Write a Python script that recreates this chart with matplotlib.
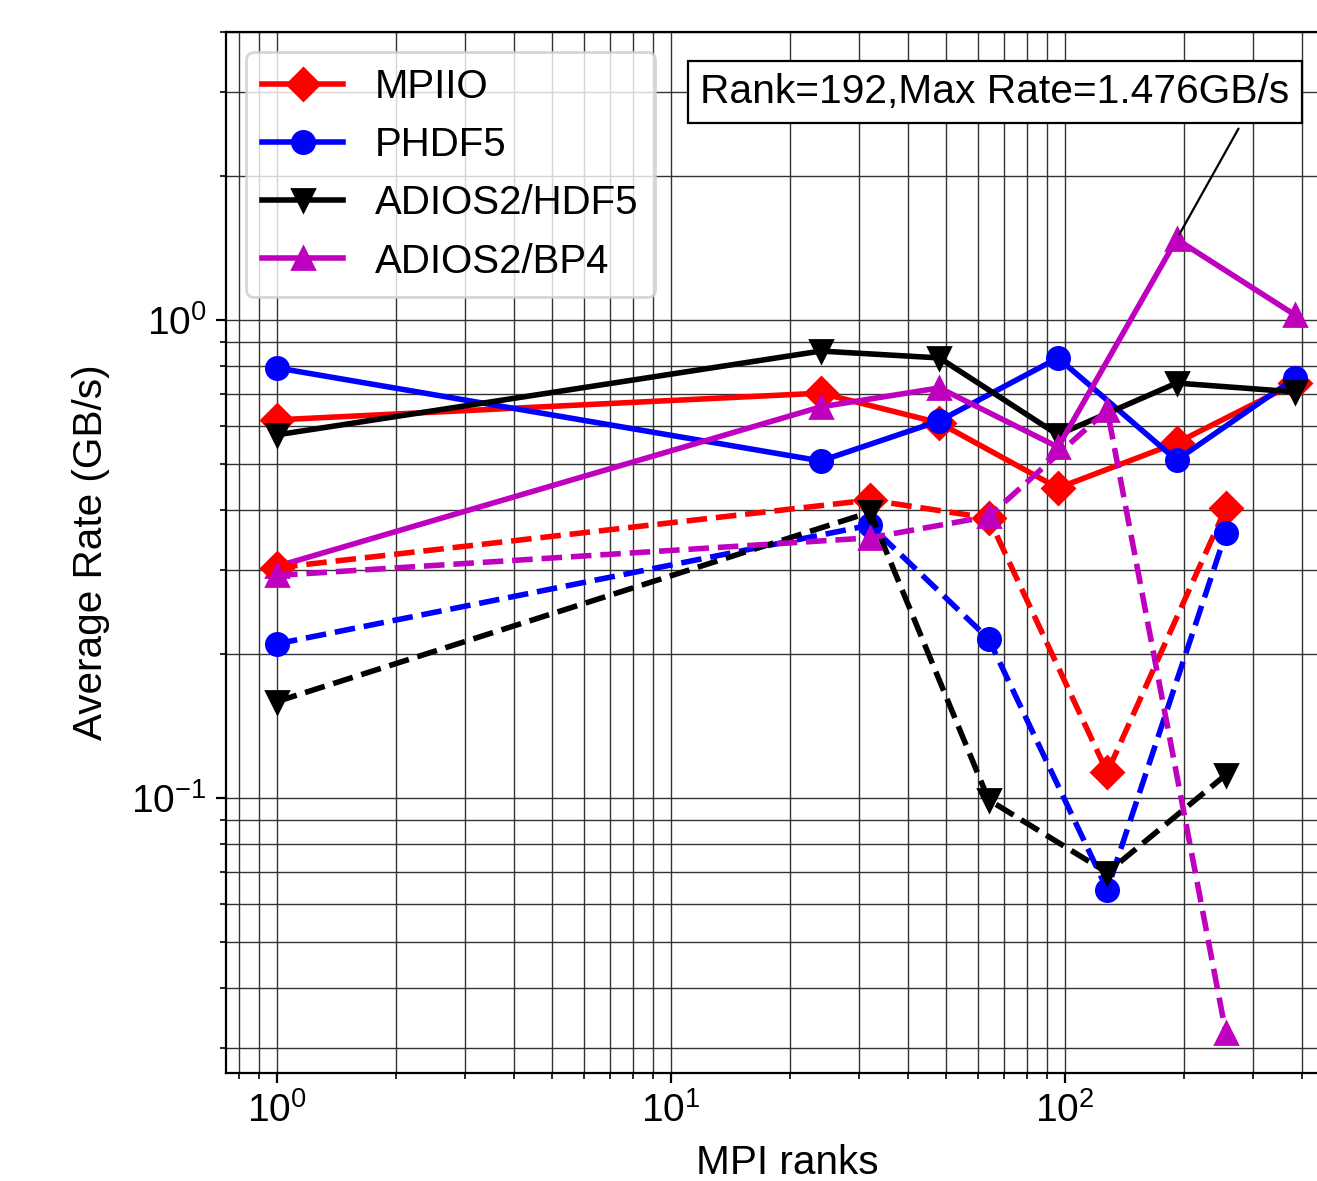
import numpy as np
import matplotlib
matplotlib.use("Agg")
import matplotlib.pyplot as plt

# =========================
# DATA
# =========================
ranks_solid = [1, 24, 48, 96, 192, 384]
ranks_dash = [1, 32, 64, 128, 256]

labels = ["MPIIO", "PHDF5", "ADIOS2/HDF5", "ADIOS2/BP4"]

mpiio_solid = [0.618, 0.703, 0.609, 0.445, 0.553, 0.738]
phdf5_solid = [0.794, 0.507, 0.615, 0.833, 0.509, 0.756]
hdf5_solid = [0.575, 0.861, 0.833, 0.575, 0.738, 0.707]
bp4_solid = [0.305, 0.658, 0.721, 0.542, 1.476, 1.024]

mpiio_dash = [0.303, 0.420, 0.385, 0.113, 0.404]
phdf5_dash = [0.210, 0.372, 0.215, 0.0642, 0.358]
hdf5_dash = [0.159, 0.396, 0.099, 0.0697, 0.1117]
bp4_dash = [0.292, 0.350, 0.388, 0.648, 0.0322]

max_rank = 192
max_rate = 1.476

# =========================
# STYLE
# =========================
plt.rcParams["font.family"] = ["Liberation Sans", "DejaVu Sans"]
plt.rcParams["mathtext.fontset"] = "custom"
plt.rcParams["mathtext.rm"] = "Liberation Sans"
plt.rcParams["mathtext.it"] = "Liberation Sans:italic"
plt.rcParams["mathtext.bf"] = "Liberation Sans:bold"

colors = ["r", "b", "k", "m"]
markers = ["D", "o", "v", "^"]

fig = plt.figure(figsize=(1317 / 200, 1181 / 200), dpi=200)
# the original axes run past the right edge of the image
ax = fig.add_axes([0.1716, 0.0915, 0.852, 0.8815])

solid = [mpiio_solid, phdf5_solid, hdf5_solid, bp4_solid]
dashed = [mpiio_dash, phdf5_dash, hdf5_dash, bp4_dash]

for vals, c, m, lab in zip(solid, colors, markers, labels):
    ax.plot(ranks_solid, vals, color=c, marker=m, lw=2, ms=8, label=lab)

for vals, c, m in zip(dashed, colors, markers):
    ax.plot(ranks_dash, vals, color=c, marker=m, lw=2, ms=8, ls="--")

ax.set_xscale("log")
ax.set_yscale("log")
ax.set_xlim(0.742, 523)
ax.set_ylim(0.02654, 4.01)

ax.grid(True, which="both", color="0.2", lw=0.5)
ax.spines["right"].set_visible(False)

ax.set_xlabel("MPI ranks", fontsize=14.6, labelpad=5)
ax.set_ylabel("Average Rate (GB/s)", fontsize=14.6, labelpad=7.6)
ax.tick_params(axis="both", which="major", labelsize=14)

ax.legend(loc="upper left", fontsize=14.5)

ax.annotate(
    "Rank=%d,Max Rate=%.3fGB/s" % (max_rank, max_rate),
    xy=(max_rank, max_rate),
    xytext=(66.4, 3.0),
    ha="center", va="center", fontsize=14.7,
    bbox=dict(boxstyle="square", fc="white", ec="black", lw=0.8),
    arrowprops=dict(arrowstyle="-", color="black", lw=0.8, relpos=(0.93, 0.0)),
)

plt.savefig("out.png", dpi=200)
